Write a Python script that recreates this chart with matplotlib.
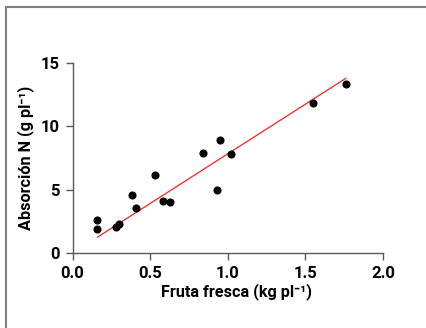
import numpy as np
import matplotlib
matplotlib.use("Agg")
import matplotlib.pyplot as plt
from matplotlib.patches import Rectangle

plt.rcParams['font.family'] = ['Roboto', 'DejaVu Sans']

# Fresh fruit yield (kg per plant) vs. nitrogen uptake (g per plant)
fruta = [0.16, 0.16, 0.28, 0.30, 0.38, 0.41, 0.53, 0.58, 0.63, 0.84, 0.93, 0.95, 1.02, 1.55, 1.76]
absorcion = [2.6, 1.9, 2.1, 2.3, 4.6, 3.6, 6.2, 4.1, 4.0, 7.9, 5.0, 8.9, 7.8, 11.8, 13.3]

# Linear fit line
slope, intercept = 7.81, 0.02
fit_x = [0.16, 1.76]

x_ticks = [0.0, 0.5, 1.0, 1.5, 2.0]
y_ticks = [0, 5, 10, 15]

fig = plt.figure(figsize=(4.27, 3.28), dpi=100)
fig.patch.set_facecolor('white')

# Outer frame
fig.add_artist(Rectangle((6 / 427, -0.1), 1.2, 1.1 - 7 / 328,
                         transform=fig.transFigure, fill=False,
                         edgecolor='#7f7f7f', linewidth=1.5))

ax = fig.add_axes([0.170, 0.2277, 0.727, 0.5813])
fx = np.array(fit_x)
ax.plot(fx, slope * fx + intercept, color='#ff2020', linewidth=0.9, zorder=2)
ax.scatter(fruta, absorcion, s=34, color='black', zorder=3, linewidths=0)

ax.set_xlim(0, 2.0)
ax.set_ylim(0, 15)
ax.set_xticks(x_ticks)
ax.set_yticks(y_ticks)
ax.set_xticklabels([f"{v:.1f}" for v in x_ticks])
ax.set_yticklabels([str(v) for v in y_ticks])

for s in ['top', 'right']:
    ax.spines[s].set_visible(False)
for s in ['left', 'bottom']:
    ax.spines[s].set_color('#595959')
    ax.spines[s].set_linewidth(1.0)

ax.tick_params(axis='both', direction='out', length=5, width=1.0,
               color='#595959', labelsize=12, pad=4)
for lab in ax.get_xticklabels() + ax.get_yticklabels():
    lab.set_fontweight('bold')

ax.set_xlabel("Fruta fresca (kg pl\u207b\u00b9)", fontsize=11.7, fontweight='bold')
ax.xaxis.set_label_coords(0.527, -0.158)
ax.set_ylabel("Absorción N (g pl\u207b\u00b9)", fontsize=11.7, fontweight='bold')
ax.yaxis.set_label_coords(-0.125, 0.5)

fig.savefig("out.png", dpi=100, facecolor='white')
